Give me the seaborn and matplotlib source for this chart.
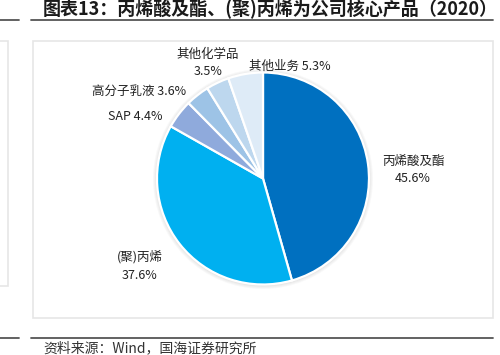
import matplotlib
matplotlib.use("Agg")
import matplotlib.pyplot as plt
import seaborn as sns
from matplotlib.patches import Circle, Rectangle

categories = ["丙烯酸及酯", "(聚)丙烯", "SAP", "高分子乳液", "其他化学品", "其他业务"]
values = [45.6, 37.6, 4.4, 3.6, 3.5, 5.3]
colors = ["#0070C0", "#00B0F0", "#8FAADC", "#9DC3E6", "#BDD7EE", "#DEEBF7"]
title = "图表13：丙烯酸及酯、(聚)丙烯为公司核心产品（2020）"
source = "资料来源：Wind，国海证券研究所"

sns.set_theme(style="white")
plt.rcParams['font.family'] = ['Noto Sans CJK SC', 'DejaVu Sans']

W, H = 500, 355
fig = plt.figure(figsize=(5, 3.55), dpi=100)
ax = fig.add_axes([0, 0, 1, 1])
ax.set_xlim(0, W)
ax.set_ylim(0, H)
ax.set_aspect('equal')
ax.axis('off')

def Y(y):
    return H - y

# frames
ax.add_patch(Rectangle((-10, Y(286)), 17.5, 286 - 41, fill=False, ec="#e6e6e6", lw=1.2))
ax.add_patch(Rectangle((32.5, Y(317.5)), 460.5, 317.5 - 41, fill=False, ec="#e6e6e6", lw=1.2))
for y in (20, 337.5):
    ax.plot([0, 19], [Y(y), Y(y)], color="#555555", lw=1.3)
    ax.plot([31, 493], [Y(y), Y(y)], color="#555555", lw=1.3)

ax.text(43, Y(9), title, fontsize=13, fontweight='bold', ha='left', va='center', color="#1a1a1a")
ax.text(43, Y(341), source, fontsize=10, style='italic', ha='left', va='top', color="#333333")

cx, cy, r = 263, Y(178.5), 106
# soft shadow
for i, a in enumerate([0.05, 0.05, 0.06, 0.07]):
    ax.add_patch(Circle((cx, cy - 0.5), r + 4 - i, fc="#888888", ec="none", alpha=a))

ax.pie(values, colors=colors, startangle=90, counterclock=False, center=(cx, cy),
       radius=r, wedgeprops=dict(edgecolor="white", linewidth=1.6))
ax.set_xlim(0, W)
ax.set_ylim(0, H)
ax.set_aspect('equal')
ax.axis('off')

fs = 9
labels = [
    (f"{categories[0]}\n{values[0]:.1f}%", 413, 170),
    (f"{categories[1]}\n{values[1]:.1f}%", 140, 266),
    (f"{categories[2]} {values[2]:.1f}%", 135, 117),
    (f"{categories[3]} {values[3]:.1f}%", 139, 91),
    (f"{categories[4]}\n{values[4]:.1f}%", 208, 63),
    (f"{categories[5]} {values[5]:.1f}%", 290, 66),
]
for txt, x, y in labels:
    ax.text(x, Y(y), txt, fontsize=fs, ha='center', va='center', color="#222222",
            linespacing=1.45)

fig.savefig("out.png", dpi=100)
